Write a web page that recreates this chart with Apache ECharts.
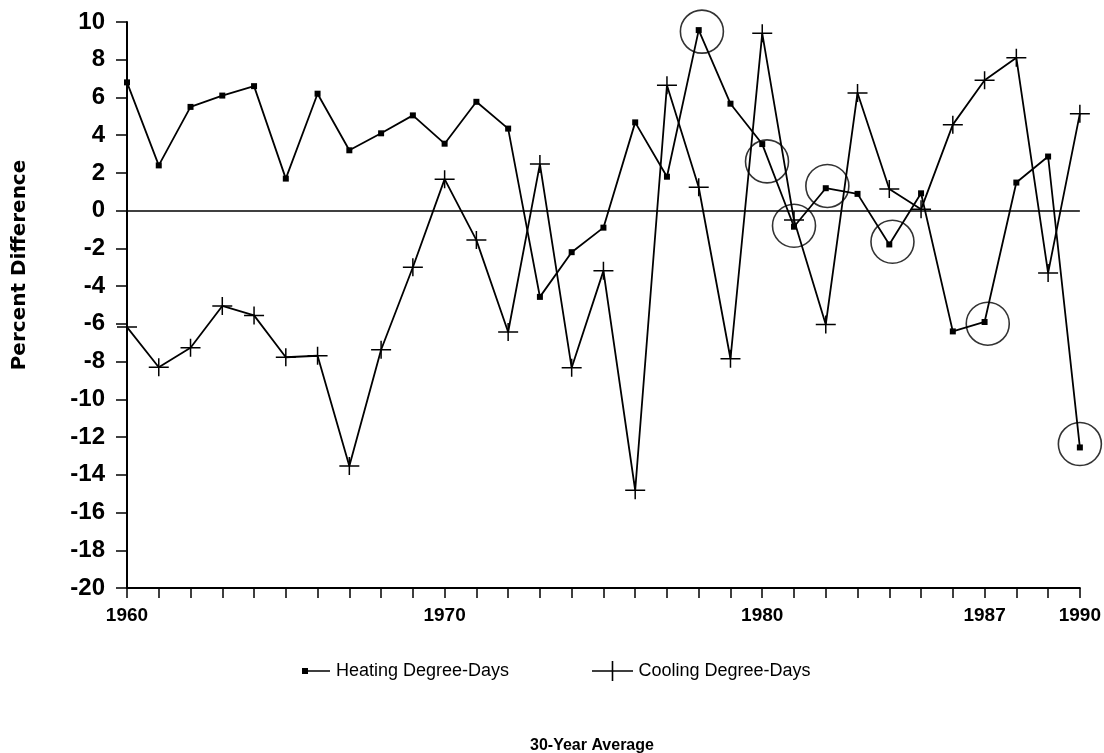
<!DOCTYPE html>
<html>
<head>
<meta charset="utf-8">
<script src="https://cdn.jsdelivr.net/npm/echarts@6/dist/echarts.min.js"></script>
<style>
html,body{margin:0;padding:0;background:#fff;}
#chart{width:1104px;height:753px;}
</style>
</head>
<body>
<div id="chart"></div>
<script>
// ---- data ----
const years = [1960,1961,1962,1963,1964,1965,1966,1967,1968,1969,1970,1971,1972,1973,1974,1975,1976,1977,1978,1979,1980,1981,1982,1983,1984,1985,1986,1987,1988,1989,1990];
const heating = [6.8,2.4,5.5,6.1,6.6,1.7,6.2,3.2,4.1,5.05,3.55,5.77,4.35,-4.57,-2.2,-0.9,4.68,1.8,9.57,5.67,3.53,-0.85,1.19,0.89,-1.79,0.92,-6.4,-5.9,1.49,2.87,-12.55];
const cooling = [-6.17,-8.3,-7.27,-5.05,-5.55,-7.77,-7.69,-13.53,-7.37,-3.0,1.67,-1.56,-6.43,2.47,-8.33,-3.19,-14.82,6.65,1.24,-7.85,9.4,-0.5,-6.03,6.24,1.15,0.07,4.56,6.91,8.1,-3.3,5.14];
const circledYears = [1978.1,1980.15,1981.0,1982.05,1984.1,1987.1,1990.0];
const circledValues = [9.49,2.61,-0.8,1.31,-1.65,-5.99,-12.37];
const xTickLabels = [1960,1970,1980,1987,1990];
const seriesNames = ['Heating Degree-Days','Cooling Degree-Days'];
const yAxisTitle = 'Percent Difference';
const bottomTitle = '30-Year Average';

const crossPath = 'path://M0,8.25H20V9.75H0Z M9.25,0H10.75V18H9.25Z';
const font = "'Liberation Sans', Arial, sans-serif";

const chart = echarts.init(document.getElementById('chart'), null, {renderer:'canvas'});
chart.setOption({
  backgroundColor:'#fff',
  animation:false,
  title:{
    text: bottomTitle, left: 530, top: 738, padding:0,
    textStyle:{fontFamily:font, fontWeight:'bold', fontSize:16, color:'#000'}
  },
  legend:[
    {
      data:[{name:seriesNames[0], icon:'path://M0,0H6V6H0Z M6,2.3H28V3.7H6Z'}],
      left:302, top:662, padding:0, itemWidth:30, itemHeight:6, itemGap:0,
      textStyle:{fontFamily:font, fontSize:18, color:'#000'}
    },
    {
      data:[{name:seriesNames[1], icon:'path://M0,9.2H41V10.8H0Z M19.7,0H21.3V20H19.7Z'}],
      left:592, top:661, padding:0, itemWidth:42, itemHeight:20, itemGap:0,
      textStyle:{fontFamily:font, fontSize:18, color:'#000'}
    }
  ],
  graphic:[{
    type:'text', x:20, y:265, rotation:Math.PI/2,
    style:{text:yAxisTitle, font:"bold 20px 'DejaVu Sans', sans-serif", fill:'#000', textAlign:'center', textVerticalAlign:'middle'}
  }],
  grid:{left:127, right:20, top:22, bottom:165, containLabel:false},
  xAxis:{
    type:'value', min:1960, max:1990, interval:1,
    axisLine:{show:true, onZero:false, lineStyle:{color:'#000', width:2}},
    axisTick:{show:true, inside:false, length:10, lineStyle:{color:'#000', width:1.5}},
    splitLine:{show:false},
    axisLabel:{
      margin:18, color:'#000', fontFamily:font, fontWeight:'bold', fontSize:19,
      formatter:function(v){ return xTickLabels.indexOf(Math.round(v))>=0 ? String(Math.round(v)) : ''; }
    }
  },
  yAxis:{
    type:'value', min:-20, max:10, interval:2,
    axisLine:{show:true, onZero:false, lineStyle:{color:'#000', width:2}},
    axisTick:{show:true, inside:false, length:11, lineStyle:{color:'#000', width:1.5}},
    splitLine:{show:false},
    axisLabel:{margin:22, color:'#000', fontFamily:font, fontWeight:'bold', fontSize:24}
  },
  series:[
    {
      name:seriesNames[0], type:'line', clip:false,
      data: years.map((y,i)=>[y,heating[i]]),
      symbol:'rect', symbolSize:6, showAllSymbol:true,
      lineStyle:{color:'#000', width:1.8},
      itemStyle:{color:'#000'},
      markLine:{
        silent:true, symbol:['none','none'], label:{show:false},
        lineStyle:{color:'#000', width:1.5, type:'solid'},
        data:[{yAxis:0}]
      }
    },
    {
      name:seriesNames[1], type:'line', clip:false,
      data: years.map((y,i)=>[y,cooling[i]]),
      symbol:crossPath, symbolSize:[20,18], showAllSymbol:true,
      lineStyle:{color:'#000', width:1.8},
      itemStyle:{color:'#000'}
    },
    {
      name:'circles', type:'scatter', clip:false, silent:true,
      data: circledYears.map((y,i)=>[y,circledValues[i]]),
      symbol:'circle', symbolSize:43,
      itemStyle:{color:'rgba(0,0,0,0)', borderColor:'#000', borderWidth:1.6}
    }
  ]
});
</script>
</body>
</html>
